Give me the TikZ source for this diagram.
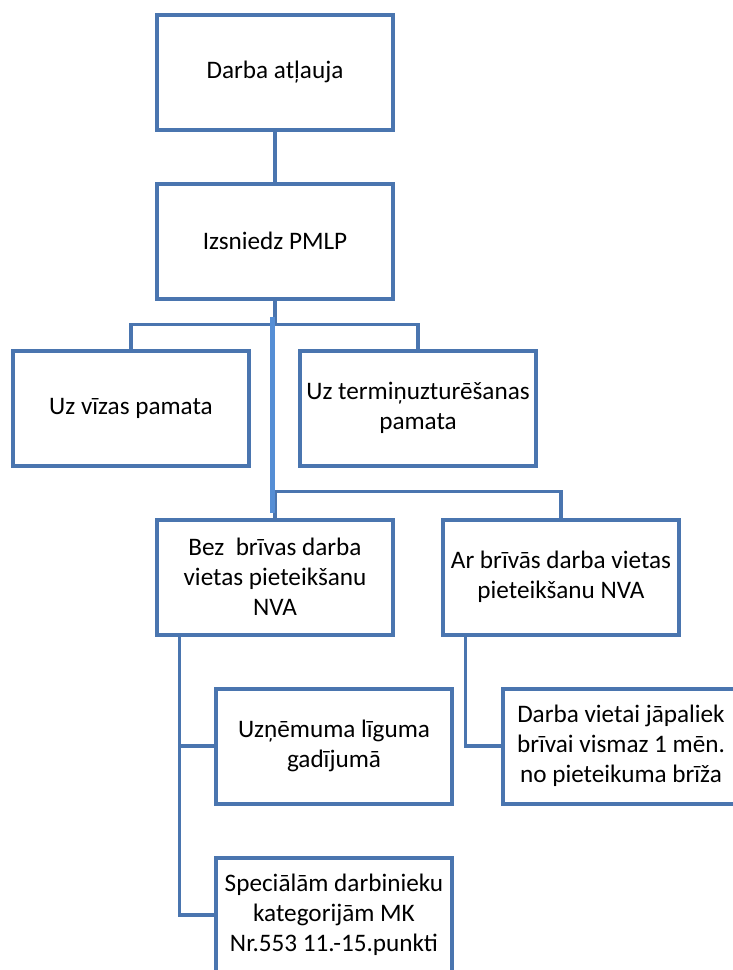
\documentclass[tikz,border=0pt]{standalone}
\usepackage{fontspec}
\setmainfont{Carlito}
\usetikzlibrary{positioning}
\definecolor{boxblue}{RGB}{74,117,175}
\definecolor{lineblue}{RGB}{85,142,213}
\tikzset{
    orgbox/.style={draw=boxblue,line width=0.12cm,fill=white,minimum width=7.05cm,minimum height=3.45cm,align=center,inner sep=2pt,font=\fontsize{21.5}{25.8}\selectfont},
    link/.style={draw=boxblue,line width=0.11cm},
    hilink/.style={draw=lineblue,line width=0.15cm}
}

\begin{document}
\begin{tikzpicture}[x=0.03cm,y=-0.03cm]
            \useasboundingbox (0,0) rectangle (733,970);
            \clip (0,0) rectangle (733,970);
            % boxes, centres in pixels
            \node[orgbox] (atlauja) at (275,72) {Darba atļauja};
            \node[orgbox] (pmlp) at (275,241) {Izsniedz PMLP};
            \node[orgbox] (viza) at (131,408) {Uz vīzas pamata};
            \node[orgbox] (term) at (418,408) {Uz termiņuzturēšanas\\pamata};
            \node[orgbox] (bez) at (275,577) {Bez~~brīvas darba\\vietas pieteikšanu\\NVA};
            \node[orgbox] (ar) at (561,577) {Ar brīvās darba vietas\\pieteikšanu NVA};
            \node[orgbox] (uzn) at (334,746) {Uzņēmuma līguma\\gadījumā};
            \node[orgbox] (vieta) at (621,746) {Darba vietai jāpaliek\\brīvai vismaz 1 mēn.\\no pieteikuma brīža};
            \node[orgbox] (spec) at (334,915) {Speciālām darbinieku\\kategorijām MK\\Nr.553 11.-15.punkti};
            % connectors
            \draw[link] (atlauja) -- (pmlp);
            \draw[link] (pmlp.south) -- ++(0,24) -| (viza.north);
            \draw[link] (pmlp.south) -- ++(0,24) -| (term.north);
            \draw[link] (bez.north) -- ++(0,-26) -| (ar.north);
            \coordinate (hitop) at (272,317);
            \coordinate (hibot) at (272,513);
            \draw[hilink] (hitop) -- (hibot);
            \draw[link] ([xshift=0.72cm]bez.south west) |- (uzn.west);
            \draw[link] ([xshift=0.72cm]bez.south west) |- (spec.west);
            \draw[link] ([xshift=0.72cm]ar.south west) |- (vieta.west);
\end{tikzpicture}
\end{document}
